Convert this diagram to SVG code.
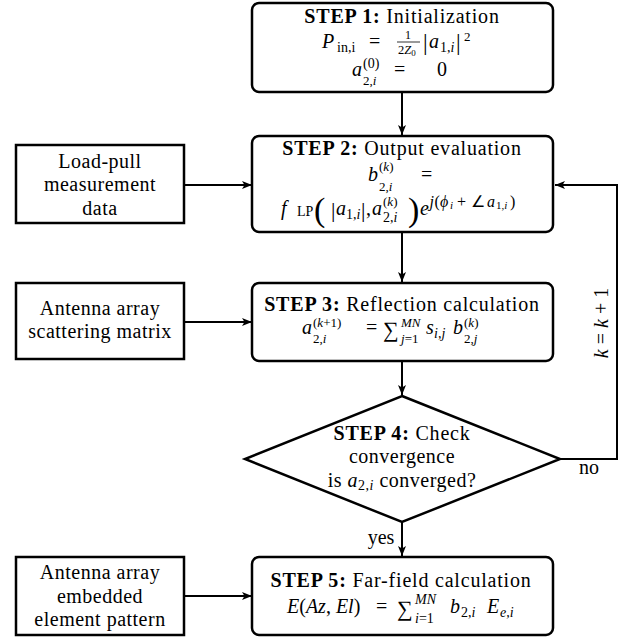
<svg xmlns="http://www.w3.org/2000/svg" width="626" height="639" viewBox="0 0 626 639">
<style>
.t{font-family:"Liberation Serif","Times New Roman",serif;font-size:20px;fill:#000}
.b{font-weight:bold}
.i{font-style:italic}
.s{font-size:14px}
.s3{font-size:13px}
.xs{font-size:10px}
.m{text-anchor:middle}
.l5{letter-spacing:0.5px}
.l8{letter-spacing:0.8px}
.box{fill:#fff;stroke:#000;stroke-width:2.5}
.c{fill:none;stroke:#000;stroke-width:2}
</style>
<defs>
<marker id="ah" markerUnits="userSpaceOnUse" markerWidth="12" markerHeight="10" refX="10" refY="4" orient="auto">
<path d="M0,0 L10,4 L0,8 L2.5,4 Z" fill="#000"/>
</marker>
</defs>
<rect width="626" height="639" fill="#fff"/>
<g id="connectors">
<line class="c" x1="402" y1="92" x2="402" y2="135" marker-end="url(#ah)"/>
<line class="c" x1="184" y1="185" x2="252" y2="185" marker-end="url(#ah)"/>
<line class="c" x1="402" y1="232" x2="402" y2="282" marker-end="url(#ah)"/>
<line class="c" x1="184" y1="322" x2="252" y2="322" marker-end="url(#ah)"/>
<line class="c" x1="402" y1="361" x2="402" y2="395" marker-end="url(#ah)"/>
<line class="c" x1="402" y1="522" x2="402" y2="556" marker-end="url(#ah)"/>
<line class="c" x1="184" y1="596" x2="252" y2="596" marker-end="url(#ah)"/>
<polyline class="c" points="560,459 617,459 617,185 555,185" marker-end="url(#ah)"/>
<text class="t m" x="589" y="474">no</text>
<text class="t m" x="381" y="544">yes</text>
<text class="t m" transform="translate(608,323) rotate(-90)"><tspan class="i">k</tspan> = <tspan class="i">k</tspan> + 1</text>
</g>
<g id="step1">
<rect class="box" x="252" y="3" width="301" height="89" rx="7"/>
<text class="t m l8" x="402" y="23"><tspan class="b">STEP 1:</tspan> Initialization</text>
<text class="t"><tspan class="i" x="322" y="48">P</tspan><tspan class="s" x="337" y="52">in,i</tspan><tspan x="369" y="48">=</tspan><tspan font-size="12px" x="405" y="39">1</tspan><tspan font-size="12.5px" x="398" y="53.5">2<tspan class="i">Z</tspan><tspan font-size="9px" dy="2">0</tspan></tspan><tspan x="423" y="50" font-size="23px">|</tspan><tspan class="i" x="429" y="48">a</tspan><tspan class="s" x="440" y="52">1,<tspan class="i">i</tspan></tspan><tspan x="456" y="50" font-size="23px">|</tspan><tspan class="s3" x="464" y="41">2</tspan></text>
<line x1="397" y1="42" x2="420" y2="42" stroke="#000" stroke-width="0.8"/>
<text class="t"><tspan class="i" x="352" y="76">a</tspan><tspan class="s" x="363" y="68">(0)</tspan><tspan class="s3" x="363" y="85">2,<tspan class="i">i</tspan></tspan><tspan x="394" y="76">=</tspan><tspan x="437" y="76">0</tspan></text>
</g>
<g id="step2">
<rect class="box" x="252" y="136" width="301" height="96" rx="7"/>
<text class="t m l8" x="402" y="155"><tspan class="b">STEP 2:</tspan> Output evaluation</text>
<text class="t"><tspan class="i" x="368" y="181">b</tspan><tspan class="s3" x="379" y="171">(<tspan class="i">k</tspan>)</tspan><tspan class="s3" x="379" y="191">2,<tspan class="i">i</tspan></tspan><tspan x="421" y="181">=</tspan></text>
<text class="t"><tspan class="i" x="281" y="215">f</tspan><tspan x="297" y="216" font-size="14px">LP</tspan><tspan x="314" y="221" font-size="34px">(</tspan><tspan x="331" y="217" font-size="22px">|</tspan><tspan class="i" x="336" y="215">a</tspan><tspan class="s" x="346" y="219">1,<tspan class="i">i</tspan></tspan><tspan x="361" y="217" font-size="22px">|</tspan><tspan x="366" y="215">,</tspan><tspan class="i" x="372" y="215">a</tspan><tspan class="s3" x="383" y="206">(<tspan class="i">k</tspan>)</tspan><tspan class="s" x="383" y="222">2,<tspan class="i">i</tspan></tspan><tspan x="408" y="221" font-size="34px">)</tspan><tspan class="i" x="420" y="215">e</tspan><tspan font-size="16px" class="i" x="429.5" y="207">j</tspan><tspan font-size="16px" x="434.5" y="207">(</tspan><tspan font-size="16px" class="i" x="440" y="207">ϕ</tspan><tspan font-size="11px" class="i" x="450" y="209">i</tspan><tspan font-size="16px" x="457" y="207">+</tspan><tspan font-size="16px" x="471" y="207">∠</tspan><tspan font-size="16px" class="i" x="487" y="207">a</tspan><tspan font-size="11px" x="496" y="209">1,<tspan class="i">i</tspan></tspan><tspan font-size="16px" x="510" y="207">)</tspan></text>
</g>
<g id="step3">
<rect class="box" x="252" y="283" width="301" height="78" rx="7"/>
<text class="t m l8" x="402" y="311"><tspan class="b">STEP 3:</tspan> Reflection calculation</text>
<text class="t"><tspan class="i" x="302" y="334">a</tspan><tspan class="s3" x="313" y="327">(<tspan class="i">k</tspan>+1)</tspan><tspan class="s3" x="313" y="343">2,<tspan class="i">i</tspan></tspan><tspan x="366" y="334">=</tspan><tspan x="383" y="337" font-size="22px">∑</tspan><tspan class="s3 i" x="401" y="327">MN</tspan><tspan class="s3" x="401" y="343"><tspan class="i">j</tspan>=1</tspan><tspan class="i" x="426" y="334">s</tspan><tspan class="s i" x="434" y="338">i,j</tspan><tspan class="i" x="453" y="334">b</tspan><tspan class="s3" x="464" y="327">(<tspan class="i">k</tspan>)</tspan><tspan class="s3" x="464" y="343">2,<tspan class="i">j</tspan></tspan></text>
</g>
<g id="step4">
<polygon class="box" points="402,396 560,459 402,522 245,459"/>
<text class="t m l8" x="402" y="440"><tspan class="b">STEP 4:</tspan> Check</text>
<text class="t m l5" x="402" y="463">convergence</text>
<text class="t m l5" x="402" y="487">is <tspan class="i">a</tspan><tspan class="s" dy="3">2,<tspan class="i">i</tspan></tspan><tspan dy="-3"> converged?</tspan></text>
</g>
<g id="step5">
<rect class="box" x="252" y="557" width="301" height="78" rx="7"/>
<text class="t m l8" x="401" y="587"><tspan class="b">STEP 5:</tspan> Far-field calculation</text>
<text class="t"><tspan x="287" y="613"><tspan class="i">E</tspan>(<tspan class="i">Az</tspan>, <tspan class="i">El</tspan>)</tspan><tspan x="376" y="613">=</tspan><tspan x="397" y="616" font-size="22px">∑</tspan><tspan class="s i" x="415" y="604">MN</tspan><tspan class="s" x="415" y="623"><tspan class="i">i</tspan>=1</tspan><tspan class="i" x="450" y="613">b</tspan><tspan class="s" x="461" y="617">2,<tspan class="i">i</tspan></tspan><tspan class="i" x="487" y="613">E</tspan><tspan class="s i" x="500" y="617">e,i</tspan></text>
</g>
<g id="loadpull">
<rect class="box" x="16" y="145" width="168" height="78"/>
<text class="t m l5" x="100" y="168">Load-pull</text>
<text class="t m l5" x="100" y="191">measurement</text>
<text class="t m l5" x="100" y="215">data</text>
</g>
<g id="scattering">
<rect class="box" x="16" y="283" width="168" height="76"/>
<text class="t m l5" x="100" y="315">Antenna array</text>
<text class="t m l5" x="100" y="338">scattering matrix</text>
</g>
<g id="pattern">
<rect class="box" x="16" y="557" width="168" height="78"/>
<text class="t m l5" x="100" y="579">Antenna array</text>
<text class="t m l5" x="100" y="603">embedded</text>
<text class="t m l5" x="100" y="626">element pattern</text>
</g>
</svg>
